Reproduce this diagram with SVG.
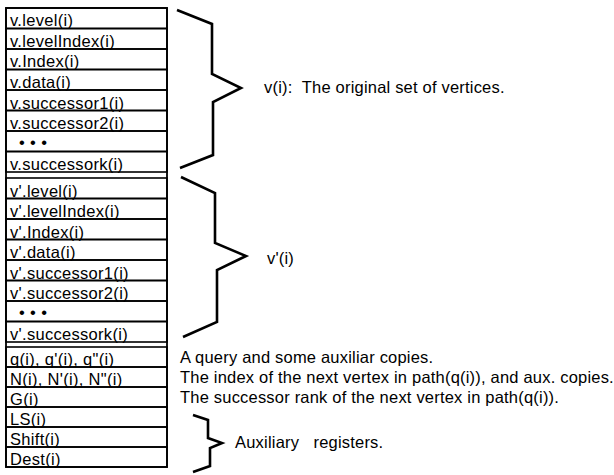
<svg xmlns="http://www.w3.org/2000/svg" width="614" height="475" viewBox="0 0 614 475">
<style>
.cell{fill:none;stroke:#000;stroke-width:1.6}
.frame{fill:none;stroke:#000;stroke-width:1.8}
.t{font-family:"Liberation Sans",Arial,sans-serif;font-size:16.5px;fill:#000;letter-spacing:0.3px;white-space:pre}
.l{font-family:"Liberation Sans",Arial,sans-serif;font-size:16.5px;fill:#000;letter-spacing:0.2px;white-space:pre}
.dots{font-family:"Liberation Sans",Arial,sans-serif;font-size:16.5px;fill:#000;letter-spacing:5.3px}
.brace{fill:none;stroke:#000;stroke-width:2.6;stroke-linejoin:miter}
</style>
<rect width="614" height="475" fill="#fff"/>
<g id="frame"><rect class="frame" x="6" y="8" width="161" height="459"/></g>
<g id="section1">
<g id="v-level"><rect class="cell" x="6" y="8" width="161" height="20.5"/><text class="t" x="10" y="26">v.level(i)</text></g>
<g id="v-levelIndex"><rect class="cell" x="6" y="28.5" width="161" height="20.5"/><text class="t" x="10" y="46.5">v.levelIndex(i)</text></g>
<g id="v-Index"><rect class="cell" x="6" y="49" width="161" height="20.5"/><text class="t" x="10" y="67">v.Index(i)</text></g>
<g id="v-data"><rect class="cell" x="6" y="69.5" width="161" height="20.5"/><text class="t" x="10" y="87.5">v.data(i)</text></g>
<g id="v-successor1"><rect class="cell" x="6" y="90" width="161" height="20.5"/><text class="t" x="10" y="108.5">v.successor1(i)</text></g>
<g id="v-successor2"><rect class="cell" x="6" y="110.5" width="161" height="20.5"/><text class="t" x="10" y="129">v.successor2(i)</text></g>
<g id="v-dots"><rect class="cell" x="6" y="131" width="161" height="20.5"/><text class="dots" x="19" y="147.5">•••</text></g>
<g id="v-successork"><rect class="cell" x="6" y="151.5" width="161" height="20.5"/><text class="t" x="10" y="170">v.successork(i)</text></g>
</g>
<g id="section2">
<g id="vp-level"><rect class="cell" x="6" y="178" width="161" height="20.5"/><text class="t" x="10" y="196.5">v'.level(i)</text></g>
<g id="vp-levelIndex"><rect class="cell" x="6" y="198.5" width="161" height="20.5"/><text class="t" x="10" y="217">v'.levelIndex(i)</text></g>
<g id="vp-Index"><rect class="cell" x="6" y="219" width="161" height="20.5"/><text class="t" x="10" y="237.5">v'.Index(i)</text></g>
<g id="vp-data"><rect class="cell" x="6" y="239.5" width="161" height="20.5"/><text class="t" x="10" y="258">v'.data(i)</text></g>
<g id="vp-successor1"><rect class="cell" x="6" y="260" width="161" height="20.5"/><text class="t" x="10" y="278.5">v'.successor1(i)</text></g>
<g id="vp-successor2"><rect class="cell" x="6" y="280.5" width="161" height="20.5"/><text class="t" x="10" y="299">v'.successor2(i)</text></g>
<g id="vp-dots"><rect class="cell" x="6" y="301" width="161" height="20.5"/><text class="dots" x="19" y="317.5">•••</text></g>
<g id="vp-successork"><rect class="cell" x="6" y="321.5" width="161" height="20.5"/><text class="t" x="10" y="340">v'.successork(i)</text></g>
</g>
<g id="section3">
<g id="q"><rect class="cell" x="6" y="347" width="161" height="20"/><text class="t" x="10" y="365">q(i), q'(i), q"(i)</text></g>
<g id="N"><rect class="cell" x="6" y="367" width="161" height="20"/><text class="t" x="10" y="385">N(i), N'(i), N"(i)</text></g>
<g id="G"><rect class="cell" x="6" y="387" width="161" height="20"/><text class="t" x="10" y="405">G(i)</text></g>
<g id="LS"><rect class="cell" x="6" y="407" width="161" height="20"/><text class="t" x="10" y="425">LS(i)</text></g>
<g id="Shift"><rect class="cell" x="6" y="427" width="161" height="20"/><text class="t" x="10" y="445">Shift(i)</text></g>
<g id="Dest"><rect class="cell" x="6" y="447" width="161" height="20"/><text class="t" x="10" y="465">Dest(i)</text></g>
</g>
<g id="connectors">
<path class="brace" d="M177,10 L212,24 L212,74 L241,88 L213,102 L213,155 L180,168"/>
<path class="brace" d="M181,177 L215,193 L215,243 L246,256 L217,270 L217,322 L183,337"/>
<path class="brace" d="M193,415 L208,420 L208,438 L222,443 L210,448 L210,466 L193,472"/>
</g>
<g id="labels">
<text class="l" x="264" y="93">v(i):  The original set of vertices.</text>
<text class="l" x="267" y="264">v'(i)</text>
<text class="l" x="180" y="363">A query and some auxiliar copies.</text>
<text class="l" x="180" y="383">The index of the next vertex in path(q(i)), and aux. copies.</text>
<text class="l" x="180" y="403">The successor rank of the next vertex in path(q(i)).</text>
<text class="l" x="235" y="448" letter-spacing="0.5">Auxiliary   registers.</text>
</g>
</svg>
